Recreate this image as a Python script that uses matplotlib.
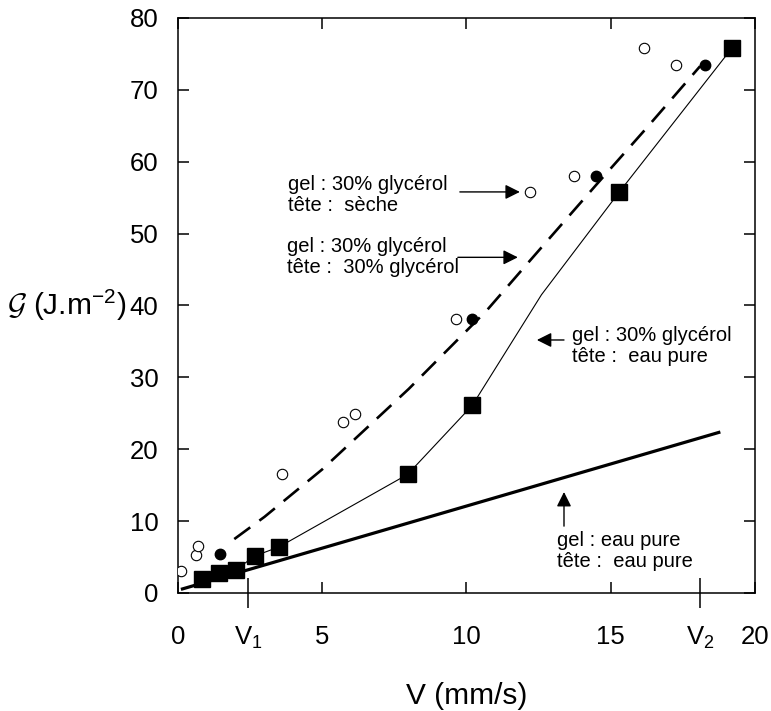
import matplotlib
matplotlib.use("Agg")
import matplotlib.pyplot as plt
from matplotlib.ticker import FixedLocator

plt.rcParams.update({
    "font.family": "Liberation Sans",
    "mathtext.fontset": "custom",
    "mathtext.rm": "Liberation Sans",
    "mathtext.it": "Liberation Sans:italic",
    "mathtext.bf": "Liberation Sans:bold",
    "mathtext.sf": "Liberation Sans",
    "mathtext.cal": "cmsy10",
})

# gel 30% glycerol, tete eau pure (squares) and its guide line
sq_v = [0.83, 1.42, 2.0, 2.66, 3.5, 7.96, 10.2, 15.3, 19.2]
sq_g = [1.95, 2.8, 3.2, 5.15, 6.4, 16.5, 26.1, 55.8, 75.8]
sq_line_v = [0.83, 1.42, 2.0, 2.66, 3.5, 7.96, 10.2, 12.6, 15.3, 19.2]
sq_line_g = [1.95, 2.8, 3.2, 5.15, 6.4, 16.5, 26.1, 41.5, 55.8, 75.8]

# gel 30% glycerol, tete seche (open circles)
open_v = [0.1, 0.62, 0.69, 3.6, 5.71, 6.12, 9.65, 12.2, 13.74, 16.16, 17.27]
open_g = [3.1, 5.3, 6.5, 16.6, 23.8, 24.9, 38.1, 55.8, 58.0, 75.8, 73.4]

# gel 30% glycerol, tete 30% glycerol (filled circles) and dashed guide
full_v = [1.45, 10.2, 14.5, 18.27]
full_g = [5.4, 38.1, 58.0, 73.4]
dash_v = [1.95, 3.0, 5.0, 8.0, 10.7, 12.3, 14.5, 16.2, 18.1]
dash_g = [7.5, 10.6, 17.2, 28.4, 39.3, 46.7, 56.8, 64.5, 73.3]

# gel eau pure, tete eau pure (thick line)
eau_v = [0.1, 18.8]
eau_g = [0.5, 22.4]

x_ticks = [0, 5, 10, 15, 20]
y_ticks = [0, 10, 20, 30, 40, 50, 60, 70, 80]
v_marks = [2.42, 18.1]
v_labels = [r"V$_1$", r"V$_2$"]

fig = plt.figure(figsize=(7.71, 7.11), dpi=100)
ax = fig.add_axes([0.2309, 0.166, 0.7483, 0.8087])

ax.plot(eau_v, eau_g, color="black", lw=2.3, solid_capstyle="butt")
ax.plot(sq_line_v, sq_line_g, color="black", lw=0.8)
ax.plot(dash_v, dash_g, color="black", lw=1.9, dashes=(7.5, 4.3))
ax.plot(sq_v, sq_g, "s", color="black", ms=11.5, zorder=4)
ax.plot(open_v, open_g, "o", mfc="white", mec="black", mew=0.8, ms=7.5, zorder=4)
ax.plot(full_v, full_g, "o", color="black", ms=7.5, zorder=4)

ax.set_xlim(0, 20)
ax.set_ylim(0, 80)
ax.set_xticks(x_ticks)
ax.set_yticks(y_ticks)
ax.xaxis.set_minor_locator(FixedLocator(v_marks))
ax.set_xticklabels(v_labels, minor=True)

ax.tick_params(which="major", direction="in", length=8, width=1.1,
               top=True, right=True, labelsize=18.5)
ax.tick_params(axis="x", which="major", pad=23)
ax.tick_params(axis="y", which="major", pad=14)
ax.tick_params(axis="x", which="minor", direction="inout", length=21,
               width=1.1, top=False, pad=12.5, labelsize=18.5)
for s in ax.spines.values():
    s.set_linewidth(1.1)

ax.set_xlabel("V (mm/s)", fontsize=21.5, labelpad=22)
ax.set_ylabel(r"$\mathcal{G}$ (J.m$^{-2}$)", fontsize=21.5, rotation=0,
              ha="right", va="center")
ax.yaxis.set_label_coords(-0.09, 0.5)

arrow = dict(arrowstyle="-|>", color="black", lw=1.0, mutation_scale=22,
             shrinkA=0, shrinkB=0)
txt = dict(fontsize=14.5, ha="left", va="center", linespacing=1.15)

ax.text(3.81, 55.4, "gel : 30% glycérol\ntête :  sèche", **txt)
ax.annotate("", xy=(11.85, 55.8), xytext=(9.77, 55.8), arrowprops=arrow)

ax.text(3.78, 46.7, "gel : 30% glycérol\ntête :  30% glycérol", **txt)
ax.annotate("", xy=(11.78, 46.7), xytext=(9.7, 46.7), arrowprops=arrow)

ax.text(13.66, 34.35, "gel : 30% glycérol\ntête :  eau pure", **txt)
ax.annotate("", xy=(12.44, 35.2), xytext=(13.38, 35.2), arrowprops=arrow)

ax.text(13.14, 5.84, "gel : eau pure\ntête :  eau pure", **txt)
ax.annotate("", xy=(13.38, 14.05), xytext=(13.38, 9.3), arrowprops=arrow)

fig.savefig("out.png", dpi=100)
